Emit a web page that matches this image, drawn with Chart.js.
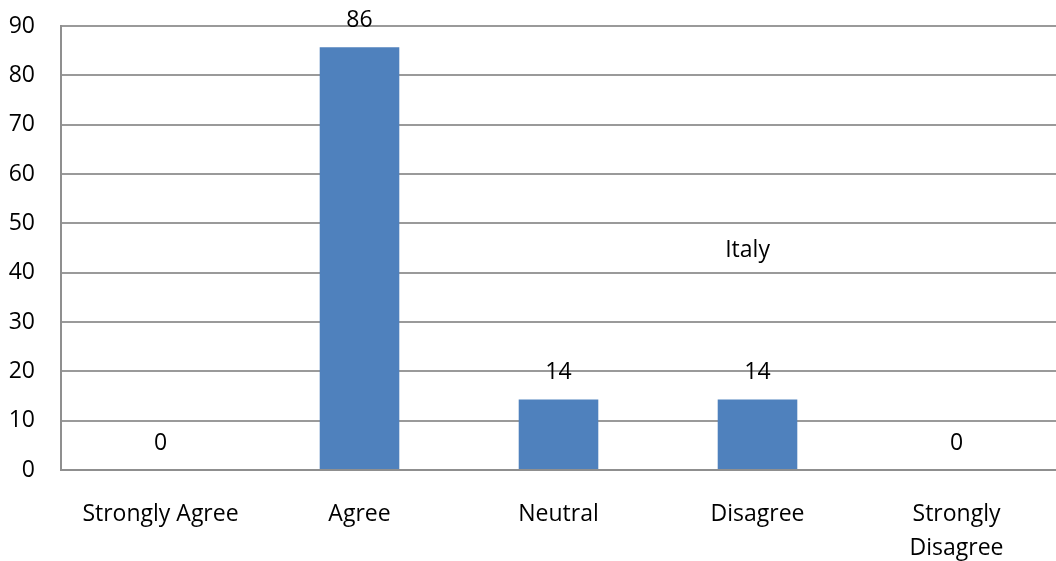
<!DOCTYPE html>
<html>
<head>
<meta charset="utf-8">
<style>
  body { margin: 0; background: #fff; }
  #wrap { width: 1056px; height: 561px; }
</style>
<script src="https://cdn.jsdelivr.net/npm/chart.js@4/dist/chart.umd.min.js"></script>
</head>
<body>
<div id="wrap"><canvas id="chart" width="1056" height="561"></canvas></div>
<script>
const categories = ['Strongly Agree', 'Agree', 'Neutral', 'Disagree', ['Strongly', 'Disagree']];
const italyValues = [0, 85.7, 14.3, 14.3, 0];
const yTicks = [0, 10, 20, 30, 40, 50, 60, 70, 80, 90];
const seriesName = 'Italy';

const FONT = "'Open Sans', sans-serif";

// value labels above each bar, from the bar elements' own positions
const valueLabels = {
    id: 'valueLabels',
    afterDatasetsDraw(chart) {
        const ctx = chart.ctx;
        const meta = chart.getDatasetMeta(0);
        ctx.save();
        ctx.font = '23px ' + FONT;
        ctx.fillStyle = '#000';
        ctx.textAlign = 'center';
        ctx.textBaseline = 'middle';
        meta.data.forEach((bar, i) => {
            ctx.fillText(String(Math.round(italyValues[i])), bar.x, bar.y - 27);
        });
        ctx.restore();
    }
};

// the series name floats inside the plot, like the original
const seriesTag = {
    id: 'seriesTag',
    afterDraw(chart) {
        const ctx = chart.ctx;
        const area = chart.chartArea;
        ctx.save();
        ctx.font = '23px ' + FONT;
        ctx.fillStyle = '#000';
        ctx.textAlign = 'center';
        ctx.textBaseline = 'middle';
        ctx.fillText(seriesName, area.left + (area.right - area.left) * 0.69, chart.scales.y.getPixelForValue(44.6));
        ctx.restore();
    }
};

new Chart(document.getElementById('chart'), {
    type: 'bar',
    data: {
        labels: categories,
        datasets: [{
            label: seriesName,
            data: italyValues,
            backgroundColor: '#4f81bd',
            borderWidth: 0,
            barPercentage: 0.8,
            categoryPercentage: 0.5
        }]
    },
    options: {
        responsive: false,
        animation: false,
        layout: { padding: { left: 9, top: 26, right: 0, bottom: 0 } },
        plugins: {
            legend: { display: false },
            tooltip: { enabled: false }
        },
        scales: {
            x: {
                grid: { display: false, drawTicks: false },
                border: { color: '#8f8f8f', width: 2 },
                ticks: {
                    color: '#000',
                    padding: 27,
                    maxRotation: 0,
                    autoSkip: false,
                    font: { family: FONT, size: 23, lineHeight: 1.48 }
                },
                afterFit(axis) {
                    axis.height = 91;
                    axis.paddingLeft = 0;
                    axis.paddingRight = 0;
                }
            },
            y: {
                min: 0,
                max: 90,
                afterBuildTicks(axis) {
                    axis.ticks = yTicks.map(v => ({ value: v }));
                },
                grid: { color: '#9a9a9a', lineWidth: 2, drawTicks: false },
                border: { color: '#8f8f8f', width: 2 },
                ticks: {
                    color: '#000',
                    padding: 26,
                    font: { family: FONT, size: 23 }
                },
                afterFit(axis) {
                    axis.width = 52;
                    axis.paddingTop = 0;
                    axis.paddingBottom = 0;
                }
            }
        }
    },
    plugins: [valueLabels, seriesTag]
});
</script>
</body>
</html>
